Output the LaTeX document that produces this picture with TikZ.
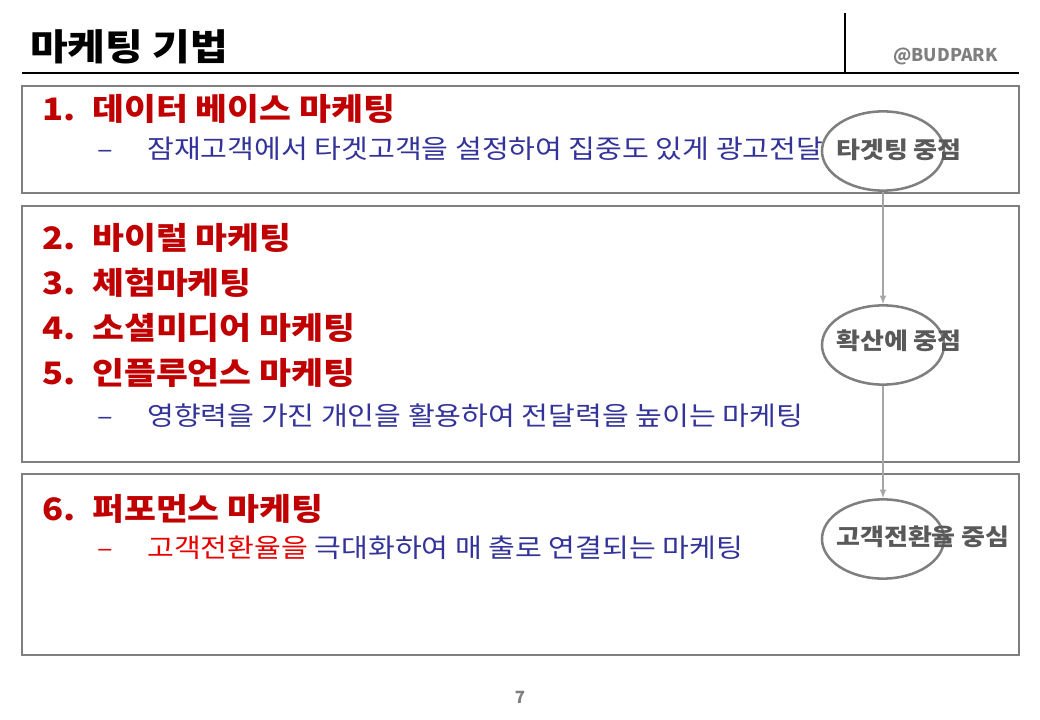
\documentclass[tikz,border=0pt]{standalone}
\usepackage{fontspec}
\setmainfont{Noto Sans CJK KR}[FakeStretch=1.12]
\newfontfamily\latino{Noto Sans CJK KR}
\usetikzlibrary{shapes.geometric}

\definecolor{vermelho}{HTML}{C00000}
\definecolor{vivo}{HTML}{E60000}
\definecolor{azul}{HTML}{333399}
\definecolor{cinza}{HTML}{7F7F7F}
\definecolor{escuro}{HTML}{595959}
\definecolor{claro}{HTML}{A6A6A6}

\begin{document}
\begin{tikzpicture}[>=latex, x=0.025cm, y=-0.025cm]

    % estilos
    \tikzstyle{caixa}=[draw=cinza, line width=2pt]
    \tikzstyle{foco}=[ellipse, draw=cinza, line width=1.8pt, minimum width=3.05cm, minimum height=1.98cm, inner sep=0]
    \tikzstyle{focotexto}=[anchor=west, inner sep=0, text=escuro, font=\fontsize{16.5}{18}\selectfont\bfseries]
    \tikzstyle{item}=[anchor=west, inner sep=0, text=vermelho, font=\fontsize{22}{24}\selectfont\bfseries]
    \tikzstyle{sub}=[anchor=west, inner sep=0, text=azul, font=\fontsize{18.5}{20}\selectfont]
    \tikzstyle{seta}=[->, claro, line width=1.1pt]

    \useasboundingbox (0,0) rectangle (1040,720);

    %======================= CABEÇALHO =======================
    \node[anchor=west, inner sep=0, font=\fontsize{26}{28}\selectfont\bfseries] (titulo) at (30,47) {마케팅 기법};
    \node[anchor=east, inner sep=0, text=cinza, font=\latino\fontsize{12.5}{14}\selectfont\bfseries] (marca) at (998,56) {@BUDPARK};
    \draw[line width=0.9pt] (22,73) -- (1019,73);
    \draw[line width=0.9pt] (845,13) -- (845,73);

    %======================= CAIXAS =======================
    \draw[caixa] (22,86) rectangle (1019,193);
    \draw[caixa] (22,206) rectangle (1019,462);
    \draw[caixa] (22,474) rectangle (1019,655);

    % caixa 1
    \node[item] (i1) at (42,109) {\makebox[1.25cm][l]{1.}데이터 베이스 마케팅};
    \node[sub]  (d1) at (97,149) {\makebox[1.25cm][l]{–}잠재고객에서 타겟고객을 설정하여 집중도 있게 광고전달};

    % caixa 2
    \node[item] (i2) at (42,238) {\makebox[1.25cm][l]{2.}바이럴 마케팅};
    \node[item] (i3) at (42,283) {\makebox[1.25cm][l]{3.}체험마케팅};
    \node[item] (i4) at (42,328) {\makebox[1.25cm][l]{4.}소셜미디어 마케팅};
    \node[item] (i5) at (42,373) {\makebox[1.25cm][l]{5.}인플루언스 마케팅};
    \node[sub]  (d2) at (97,416) {\makebox[1.25cm][l]{–}영향력을 가진 개인을 활용하여 전달력을 높이는 마케팅};

    % caixa 3
    \node[item] (i6) at (42,509) {\makebox[1.25cm][l]{6.}퍼포먼스 마케팅};
    \node[sub]  (d3) at (97,548) {\makebox[1.25cm][l]{\color{vivo}–}{\color{vivo}고객전환율을} 극대화하여 매 출로 연결되는 마케팅};

    %======================= FOCOS =======================
    \node[foco] (f1) at (883,151) {};
    \node[foco] (f2) at (883,345) {};
    \node[foco] (f3) at (883,539) {};

    \node[focotexto] (t1) at (836,150) {타겟팅 중점};
    \node[focotexto] (t2) at (836,341) {확산에 중점};
    \node[focotexto] (t3) at (836,537) {고객전환율 중심};

    \draw[seta] (f1) -- (f2);
    \draw[seta] (f2) -- (f3);

    % número da página
    \node[inner sep=0, text=cinza, font=\latino\fontsize{12}{14}\selectfont\bfseries] (pagina) at (520,697) {7};

\end{tikzpicture}
\end{document}
